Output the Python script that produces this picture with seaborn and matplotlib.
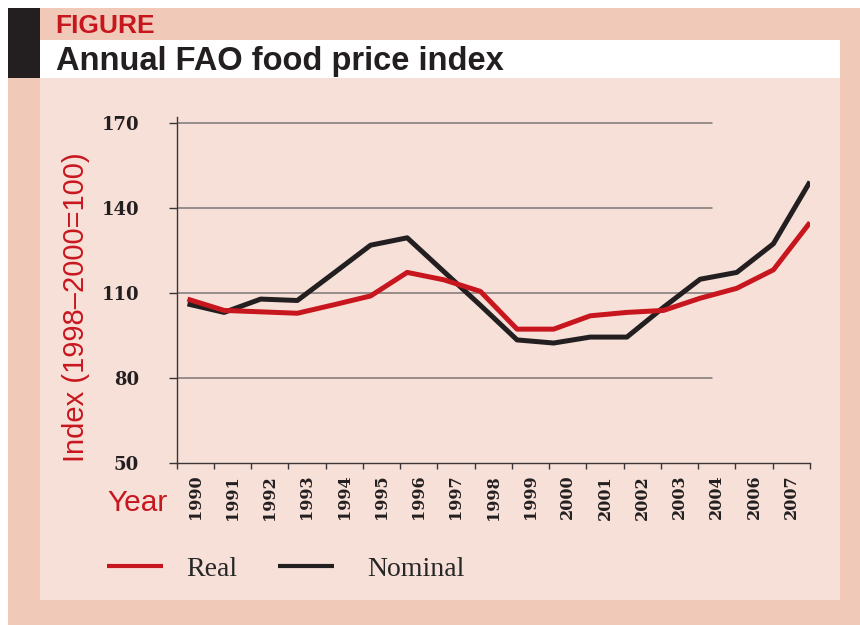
import numpy as np
import pandas as pd
import matplotlib.pyplot as plt
import seaborn as sns
from matplotlib.patches import Rectangle
from matplotlib.lines import Line2D

# -------------------------
# data
# -------------------------
tick_years = ["1990", "1991", "1992", "1993", "1994", "1995", "1996", "1997",
              "1998", "1999", "2000", "2001", "2002", "2003", "2004", "2006", "2007"]
point_index = list(range(18))  # one vertex per year, last one is the unlabelled end
real = [107.8, 103.8, 103.3, 102.8, 105.8, 108.9, 117.2, 114.6, 110.5,
        97.2, 97.2, 101.9, 103.1, 103.8, 108.1, 111.6, 118.1, 134.8]
nominal = [106.1, 103.1, 107.8, 107.3, 117.0, 126.8, 129.4, 117.5, 105.6,
           93.4, 92.3, 94.4, 94.4, 104.9, 114.8, 117.2, 127.3, 149.2]
y_ticks = [50, 80, 110, 140, 170]

df = pd.DataFrame({
    "pos": point_index * 2,
    "value": real + nominal,
    "series": ["Real"] * len(real) + ["Nominal"] * len(nominal),
})

RED = "#C8161E"
BLACK = "#231F20"
SALMON = "#F0C9B8"
PANEL = "#F7E0D8"
palette = {"Real": RED, "Nominal": BLACK}

sns.set_style("white")
plt.rcParams["font.family"] = ["DejaVu Serif"]

W, H = 860, 625
fig = plt.figure(figsize=(W / 100, H / 100), dpi=100, facecolor="white")


def fx(x):
    return x / W


def fy(y):
    return 1 - y / H


def box(x0, y0, x1, y1, color):
    fig.add_artist(Rectangle((fx(x0), fy(y1)), fx(x1) - fx(x0), fy(y0) - fy(y1),
                             transform=fig.transFigure, facecolor=color,
                             edgecolor="none", zorder=-10))


# -------------------------
# frame / header
# -------------------------
box(8, 8, W, H, SALMON)
box(8, 8, 40, 78, BLACK)
box(40, 40, 840, 78, "white")
box(40, 78, 840, 600, PANEL)

fig.text(fx(55), fy(33), "FIGURE", color=RED, fontsize=19,
         family="Liberation Sans", fontweight="bold", va="baseline", ha="left")
fig.text(fx(56), fy(70), "Annual FAO food price index", color=BLACK,
         fontsize=23.5, family="Liberation Sans", fontweight="bold",
         va="baseline", ha="left")

# -------------------------
# chart
# -------------------------
ax = fig.add_axes([fx(176.5), fy(463), (810 - 176.5) / W, (463 - 117) / H])
ax.patch.set_alpha(0)

for y in y_ticks[1:]:
    ax.axhline(y, xmin=0, xmax=0.845, color="#7d7575", lw=1.1, zorder=1)

sns.lineplot(data=df, x="pos", y="value", hue="series", palette=palette,
             hue_order=["Nominal", "Real"], lw=3.6, legend=False, ax=ax,
             solid_capstyle="butt", zorder=3)

ax.set_xlim(-0.3, 17.0)
ax.set_ylim(50, 172)
edges = np.linspace(-0.3, 17.0, 18)
ax.set_xticks(edges)
ax.set_xticklabels([])
ax.set_xticks((edges[:-1] + edges[1:]) / 2, minor=True)
ax.set_xticklabels(tick_years, minor=True, rotation=90, fontsize=11.5,
                   fontweight="bold", color=BLACK)
ax.tick_params(axis="x", which="major", direction="out", length=4.5, width=1,
               color="#3b3536", bottom=True)
ax.tick_params(axis="x", which="minor", length=0, pad=8.5, bottom=True)
ax.set_yticks(y_ticks)
ax.set_yticklabels([str(v) for v in y_ticks], fontsize=13, fontweight="bold",
                   color=BLACK)
ax.tick_params(axis="y", direction="out", length=6, width=1, color="#3b3536",
               pad=21, left=True)
ax.set_xlabel("")
ax.set_ylabel("")

for side in ["top", "right"]:
    ax.spines[side].set_visible(False)
for side in ["left", "bottom"]:
    ax.spines[side].set_color("#3b3536")
    ax.spines[side].set_linewidth(1)

fig.text(fx(76), fy(307), "Index (1998\u20132000=100)", color=RED, fontsize=21,
         family="Liberation Sans", rotation=90, ha="center", va="center")
fig.text(fx(138), fy(503), "Year", color=RED, fontsize=21.5,
         family="Liberation Sans", ha="center", va="center")

# -------------------------
# legend (one block per entry, the gaps differ in the original)
# -------------------------
leg_font = {"family": "Liberation Serif", "size": 20}
for name, x0, pad in [("Real", 107, 0.85), ("Nominal", 278, 1.2)]:
    handle = Line2D([], [], color=palette[name], lw=3, solid_capstyle="butt")
    leg = fig.legend([handle], [name], loc="center left",
                     bbox_to_anchor=(fx(x0), fy(569)), bbox_transform=fig.transFigure,
                     frameon=False, borderpad=0, borderaxespad=0,
                     handlelength=2.0, handletextpad=pad, prop=leg_font)

fig.savefig("out.png", dpi=100, facecolor=fig.get_facecolor())
plt.close(fig)
